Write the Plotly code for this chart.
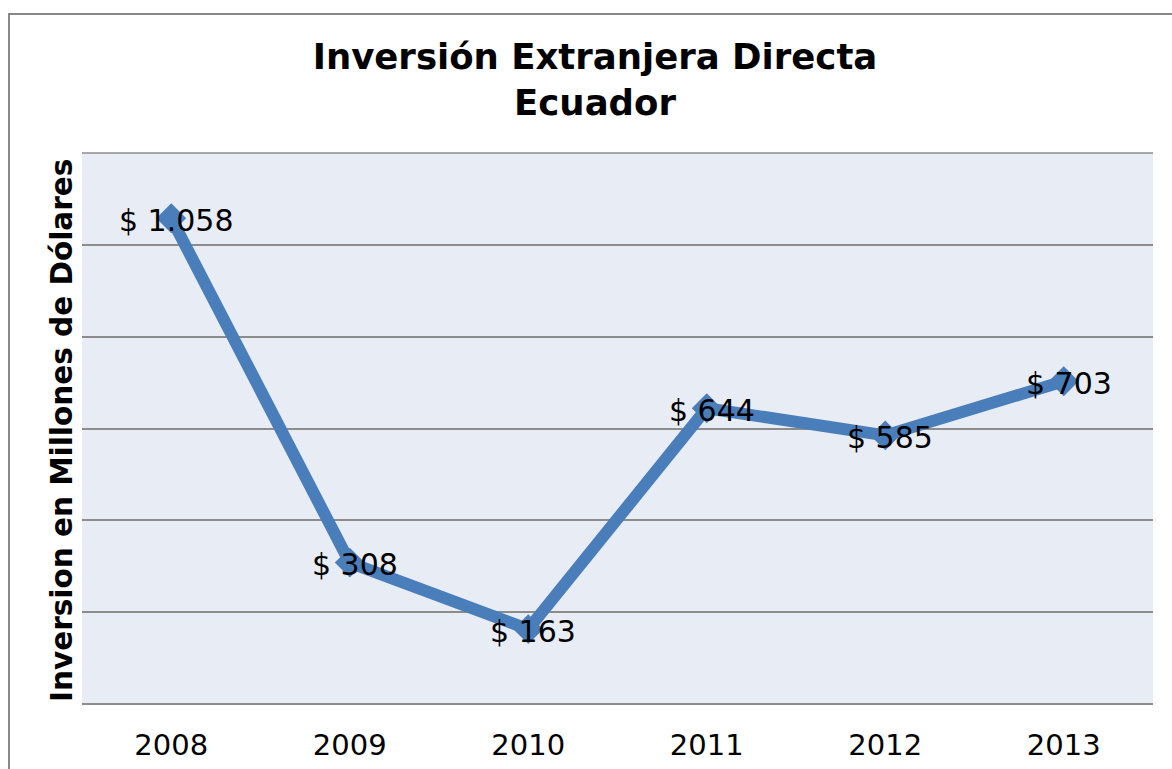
import plotly.graph_objects as go

years = ["2008", "2009", "2010", "2011", "2012", "2013"]
values = [1058, 308, 163, 644, 585, 703]
labels = ["$ 1.058", "$ 308", "$ 163", "$ 644", "$ 585", "$ 703"]

W, H = 1172, 769
L, R, T, B = 82, 19, 153, 65
pw, ph = W - L - R, H - T - B

def px_x(p):
    return (p - L) / pw

def px_y(p):
    return (H - B - p) / ph

fig = go.Figure()
fig.add_trace(go.Scatter(
    x=years, y=values,
    mode="lines+markers",
    line=dict(color="#4A7EBB", width=12),
    marker=dict(symbol="diamond", size=23, color="#4A7EBB"),
    showlegend=False,
))

annotations = [dict(
    x=i, y=v, text=t, xref="x", yref="y",
    showarrow=False, xanchor="center", yanchor="middle",
    xshift=5, yshift=-2,
    font=dict(family="DejaVu Sans", size=30, color="#000000"),
) for i, (v, t) in enumerate(zip(values, labels))]

annotations.append(dict(
    text="<b>Inversion en Millones de Dólares</b>",
    textangle=-90, xref="paper", yref="paper",
    x=px_x(62), y=px_y(431), xanchor="center", yanchor="middle",
    showarrow=False,
    font=dict(family="DejaVu Sans", size=29.5, color="#000000"),
))

fig.update_layout(
    width=W, height=H,
    margin=dict(l=L, r=R, t=T, b=B),
    paper_bgcolor="white",
    plot_bgcolor="#E8ECF4",
    title=dict(
        text="<b>Inversión Extranjera Directa<br>Ecuador</b>",
        x=595 / W, xanchor="center",
        y=1 - 69 / H, yanchor="middle",
        font=dict(family="DejaVu Sans", size=35.5, color="#000000"),
    ),
    xaxis=dict(
        type="category", range=[-0.5, 5.5], automargin=False,
        showgrid=False, zeroline=False, showline=False,
        tickfont=dict(family="DejaVu Sans", size=29, color="#000000"),
        ticks="outside", ticklen=15, tickcolor="rgba(0,0,0,0)",
    ),
    yaxis=dict(
        range=[0, 1200], dtick=200, automargin=False,
        showticklabels=False, showgrid=True,
        gridcolor="#8C8C8C", gridwidth=1.5,
        zeroline=True, zerolinecolor="#8C8C8C", zerolinewidth=1.5,
        showline=False,
    ),
    annotations=annotations,
    shapes=[dict(
        type="rect", xref="paper", yref="paper",
        x0=px_x(9), x1=px_x(1200), y0=px_y(800), y1=px_y(14),
        line=dict(color="#888888", width=2), fillcolor="rgba(0,0,0,0)",
        layer="below",
    ), dict(
        type="line", xref="paper", yref="paper",
        x0=0, x1=1, y0=1, y1=1,
        line=dict(color="#8C8C8C", width=1.5),
    )],
)

fig.write_html("out.html", config={"displayModeBar": False},
               post_script="document.body.style.margin='0';")
